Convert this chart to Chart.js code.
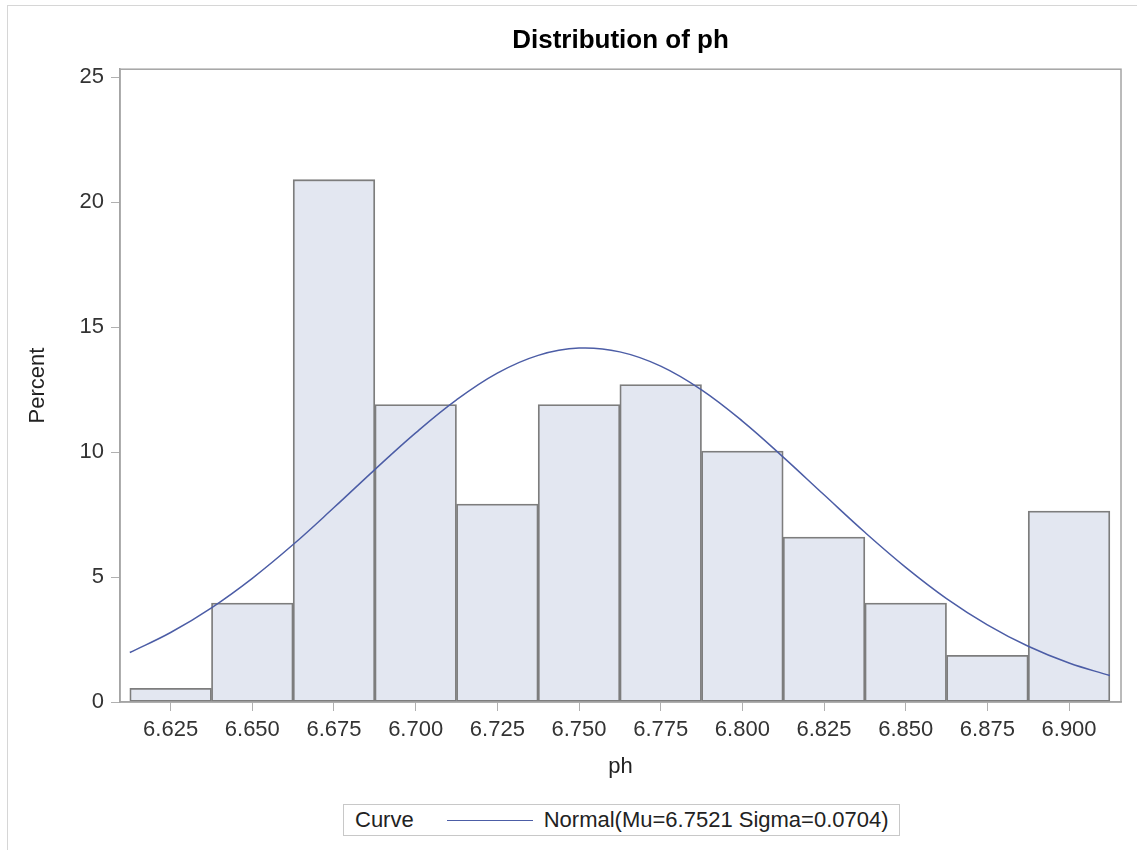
<!DOCTYPE html>
<html>
<head>
<meta charset="utf-8">
<script src="https://cdn.jsdelivr.net/npm/chart.js@4.4.1/dist/chart.umd.min.js"></script>
<style>
html,body{margin:0;padding:0;background:#fff;overflow:hidden;width:1137px;height:850px;}
#frame{position:absolute;left:7px;top:5px;width:1300px;height:1000px;border:1px solid #d6d6d6;box-sizing:border-box;}
#wrap{position:absolute;left:0;top:0;width:1137px;height:850px;}
#legend{position:absolute;left:343px;top:804px;width:557px;height:32px;border:1px solid #c8c8c8;box-sizing:border-box;
  font-family:"Liberation Sans",Arial,sans-serif;font-size:22px;color:#222;display:flex;align-items:center;white-space:nowrap;background:#fff;}
#legend .lbl{margin-left:11px;}
#legend .ln{display:inline-block;width:86px;height:0;border-top:1.5px solid #4C5DA6;margin-left:33px;}
#legend .txt{margin-left:11px;}
</style>
</head>
<body>
<div id="frame"></div>
<div id="wrap"><canvas id="c" width="1137" height="850"></canvas></div>
<div id="legend"><span class="lbl">Curve</span><span class="ln"></span><span class="txt">Normal(Mu=6.7521 Sigma=0.0704)</span></div>
<script>
// ---- data ----
const binCenters = [6.625, 6.650, 6.675, 6.700, 6.725, 6.750, 6.775, 6.800, 6.825, 6.850, 6.875, 6.900];
const binPercents = [0.55, 3.96, 20.9, 11.9, 7.92, 11.9, 12.7, 10.04, 6.6, 3.96, 1.87, 7.64];
const curveX = [6.6125, 6.625, 6.6375, 6.65, 6.6625, 6.675, 6.6875, 6.70, 6.7125, 6.725, 6.7375, 6.75, 6.7625,
                6.775, 6.7875, 6.80, 6.8125, 6.825, 6.8375, 6.85, 6.8625, 6.875, 6.8875, 6.90, 6.9125];
const curveY = [1.98, 2.78, 3.77, 4.95, 6.30, 7.78, 9.30, 10.77, 12.09, 13.16, 13.87, 14.16, 14.01,
                13.44, 12.49, 11.24, 9.80, 8.29, 6.79, 5.39, 4.14, 3.09, 2.23, 1.56, 1.06];
const xTickValues = [6.625, 6.650, 6.675, 6.700, 6.725, 6.750, 6.775, 6.800, 6.825, 6.850, 6.875, 6.900];
const xTickLabels = ['6.625','6.650','6.675','6.700','6.725','6.750','6.775','6.800','6.825','6.850','6.875','6.900'];
const yTickValues = [0, 5, 10, 15, 20, 25];
const yTickLabels = ['0','5','10','15','20','25'];
const curveLabel = 'Normal(Mu=6.7521 Sigma=0.0704)';

const FONT = '"Liberation Sans", Arial, sans-serif';
Chart.defaults.font.family = FONT;

const framePlugin = {
  id: 'frame',
  afterDatasetsDraw(chart) {
    const {ctx, chartArea: a} = chart;
    ctx.save();
    ctx.strokeStyle = '#a4a4a4';
    ctx.lineWidth = 1.5;
    ctx.strokeRect(a.left, a.top, a.right - a.left, a.bottom - a.top);
    ctx.restore();
  }
};

new Chart(document.getElementById('c'), {
  type: 'bar',
  data: {
    datasets: [
      {
        type: 'line',
        label: curveLabel,
        data: curveX.map((x, i) => ({x: x, y: curveY[i]})),
        borderColor: '#4C5DA6',
        borderWidth: 1.5,
        pointRadius: 0,
        tension: 0.4,
        fill: false,
        order: 0
      },
      {
        type: 'bar',
        label: 'ph',
        data: binCenters.map((x, i) => ({x: x, y: binPercents[i]})),
        backgroundColor: '#E3E7F1',
        borderColor: '#7d7d7d',
        borderWidth: 1.8,
        borderSkipped: false,
        barPercentage: 1.0,
        categoryPercentage: 1.0,
        order: 1
      }
    ]
  },
  options: {
    responsive: false,
    animation: false,
    layout: {padding: {left: 0, right: 16, top: 0, bottom: 0}},
    plugins: {
      legend: {display: false},
      tooltip: {enabled: false},
      title: {
        display: true,
        text: 'Distribution of ph',
        fullSize: false,
        color: '#000',
        font: {size: 26, weight: 'bold', family: FONT},
        padding: {top: 25, bottom: 13}
      }
    },
    scales: {
      x: {
        type: 'linear',
        min: 6.6095,
        max: 6.9159,
        offset: false,
        grid: {display: true, drawOnChartArea: false, drawTicks: true, tickLength: 9, color: '#b0b0b0', offset: false},
        border: {display: true, color: '#a4a4a4', width: 1.5},
        afterBuildTicks: s => { s.ticks = xTickValues.map(v => ({value: v})); },
        ticks: {
          autoSkip: false, maxRotation: 0, minRotation: 0, padding: 6,
          color: '#333', font: {size: 22},
          callback: (v, i) => xTickLabels[i]
        },
        title: {display: true, text: 'ph', color: '#222', font: {size: 22}, padding: {top: 0, bottom: 70}},
        afterFit: s => { s.height = 148; }
      },
      y: {
        type: 'linear',
        position: 'left',
        min: 0,
        max: 25.32,
        grid: {display: true, drawOnChartArea: false, drawTicks: true, tickLength: 9, color: '#b0b0b0'},
        border: {display: true, color: '#a4a4a4', width: 1.5},
        afterBuildTicks: s => { s.ticks = yTickValues.map(v => ({value: v})); },
        ticks: {
          padding: 7, color: '#333', font: {size: 22},
          callback: (v, i) => yTickLabels[i]
        },
        title: {display: true, text: 'Percent', color: '#222', font: {size: 22}, padding: {top: 25, bottom: 0}},
        afterFit: s => { s.width = 120; }
      }
    }
  },
  plugins: [framePlugin]
});
</script>
</body>
</html>
